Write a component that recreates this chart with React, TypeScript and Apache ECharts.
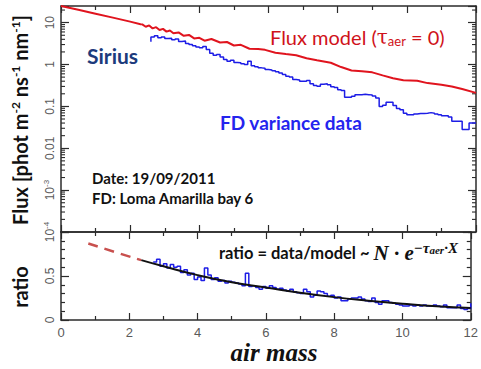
import React, { useEffect, useRef } from 'react';
import * as echarts from 'echarts';

// ---- Flux model (tau_aer = 0) versus air mass ----
const modelAirMass = [
  0, 0.5, 1.0, 1.5, 2.0, 2.3, 2.35, 2.45, 2.55, 2.65, 2.75, 2.85, 2.95, 3.05, 3.15, 3.25,
  3.4, 3.55, 3.7, 3.85, 4.0, 4.15, 4.35, 4.6, 4.8, 5.0, 5.2, 5.45, 5.7, 5.9, 6.2, 6.5,
  6.8, 7.1, 7.4, 7.8, 8.1, 8.4, 8.7, 9.0, 9.3, 9.6, 9.9, 10.3, 10.6, 11.0, 11.3, 11.6, 12.0,
];
const modelFlux = [
  25, 20.4, 16.4, 13.2, 10.6, 9.2, 9.1, 8.0, 8.6, 7.3, 7.8, 6.7, 7.1, 6.1, 6.5, 5.6,
  5.85, 4.85, 5.1, 4.2, 4.35, 3.7, 4.07, 3.35, 3.45, 2.85, 2.95, 2.38, 2.34, 2.24, 1.91, 1.78,
  1.66, 1.41, 1.26, 1.1, 0.87, 0.72, 0.69, 0.65, 0.55, 0.47, 0.42, 0.41, 0.36, 0.33, 0.3, 0.26, 0.21,
];

// ---- FD variance data, histogram bins of 0.1 in air mass ----
const fluxBinStart = 2.6;
const binWidth = 0.1;
const fluxEntryLevel = 3.5;
const dataFlux = [
  4.57, 4.9, 4.37, 4.57, 4.17, 4.27, 3.89, 4.07, 3.55, 3.63,
  3.16, 3.02, 2.82, 2.63, 2.51, 2.69, 2.29, 1.86, 1.66, 1.74,
  1.51, 1.32, 1.2, 1.26, 1.12, 1.1, 1.05, 1.0, 1.2, 0.933,
  0.891, 0.832, 0.813, 0.759, 0.741, 0.708, 0.676, 0.631, 0.575, 0.525,
  0.501, 0.437, 0.427, 0.398, 0.398, 0.417, 0.347, 0.316, 0.302, 0.339,
  0.347, 0.331, 0.295, 0.282, 0.251, 0.24, 0.166, 0.166, 0.174, 0.191,
  0.191, 0.195, 0.191, 0.186, 0.178, 0.158, 0.1, 0.107, 0.126, 0.126,
  0.105, 0.089, 0.083, 0.069, 0.063, 0.063, 0.066, 0.068, 0.068, 0.069,
  0.071, 0.069, 0.066, 0.063, 0.06, 0.06, 0.056, 0.044, 0.044, 0.044,
  0.028, 0.028, 0.04, 0.04,
];

// ---- ratio = data / model ----
const ratioBinStart = 2.7;
const ratioValues = [
  0.66, 0.69, 0.61, 0.64, 0.59, 0.63, 0.6, 0.61, 0.54, 0.57,
  0.51, 0.53, 0.46, 0.49, 0.45, 0.59, 0.51, 0.46, 0.48, 0.44,
  0.45, 0.42, 0.44, 0.43, 0.42, 0.41, 0.39, 0.53, 0.38, 0.39,
  0.37, 0.35, 0.38, 0.36, 0.39, 0.37, 0.35, 0.36, 0.34, 0.33,
  0.35, 0.32, 0.31, 0.3, 0.35, 0.32, 0.26, 0.28, 0.33, 0.32,
  0.3, 0.27, 0.28, 0.25, 0.26, 0.22, 0.22, 0.24, 0.25, 0.25,
  0.26, 0.24, 0.22, 0.21, 0.25, 0.2, 0.18, 0.22, 0.22, 0.2,
  0.19, 0.18, 0.17, 0.16, 0.16, 0.17, 0.16, 0.17, 0.16, 0.17,
  0.16, 0.16, 0.17, 0.16, 0.15, 0.17, 0.14, 0.14, 0.14, 0.17,
  0.13, 0.12, 0.13,
];
const ratioEdgeValue = 0.19;

// exponential fit N * exp(-tau_aer * X) and its extrapolation to low air mass
const fitAirMass = [2.35, 3, 4, 5, 6, 7, 8, 9, 10, 11, 12];
const fitRatio = [0.68, 0.61, 0.51, 0.43, 0.37, 0.31, 0.26, 0.22, 0.185, 0.155, 0.135];
const extrapAirMass = [0.8, 1.6, 2.35];
const extrapRatio = [0.87, 0.77, 0.68];

// y tick labels (value, text) for the flux and ratio panels
const fluxTickValues = [10, 1, 0.1, 0.01, 0.001, 0.0001];
const fluxTickTexts = ['10', '1', '0.1', '0.01', '{b|10}{s|-3}', '{b|10}{s|-4}'];
const ratioTickValues = [0, 0.5];
const ratioTickTexts = ['0', '0.5'];

// log-axis minor tick multipliers and decades
const minorMultipliers = [2, 3, 4, 5, 6, 7, 8, 9];
const decades = [-4, -3, -2, -1, 0, 1];

const AXIS = '#2b2b2b';
const TICKTXT = '#5a5a5a';
const RED = '#e0141e';
const BLUE = '#1d1de6';
const SANS = 'Lato, "Open Sans", sans-serif';
const ROOTFONT = '"Liberation Sans", Arial, sans-serif';
const SERIF = '"Liberation Serif", serif';
const LABEL_X = 50;

const pairs = (xs: number[], ys: number[]) => xs.map((x, i) => [x, ys[i]]);
const binned = (start: number, vals: number[]) =>
  vals.map((v, i) => [Math.round((start + i * binWidth) * 100) / 100, v]);

const tickLabelRich = {
  b: { fontSize: 12, fill: TICKTXT, fontFamily: ROOTFONT },
  s: { fontSize: 8, fill: TICKTXT, fontFamily: ROOTFONT, padding: [0, 0, 7, 0] },
};

// vertical tick label placed beside the left axis at the value's position
const tickLabelSeries = (xAxisIndex: number, yAxisIndex: number, values: number[], texts: string[]) => ({
  type: 'custom',
  xAxisIndex,
  yAxisIndex,
  silent: true,
  clip: false,
  data: values.map((v) => [0, v]),
  encode: { x: 0, y: 1 },
  renderItem: (params: any, api: any) => {
    const p = api.coord([0, api.value(1)]);
    return {
      type: 'text',
      x: LABEL_X,
      y: p[1],
      rotation: Math.PI / 2,
      style: {
        text: texts[params.dataIndex],
        font: `12px ${ROOTFONT}`,
        fill: TICKTXT,
        align: 'center',
        verticalAlign: 'middle',
        rich: tickLabelRich,
      },
    };
  },
});

export default function App() {
  const ref = useRef<HTMLDivElement>(null);

  useEffect(() => {
    if (!ref.current) return;
    const chart = echarts.init(ref.current, undefined, { renderer: 'svg' });

    const fluxData: number[][] = [[fluxBinStart, fluxEntryLevel], ...binned(fluxBinStart, dataFlux)];
    fluxData.push([12, dataFlux[dataFlux.length - 1]]);
    const ratioData: number[][] = binned(ratioBinStart, ratioValues);
    ratioData.push([12, ratioValues[ratioValues.length - 1]]);
    ratioData.push([12, ratioEdgeValue]);

    const minorTickValues: number[][] = [];
    decades.forEach((d) =>
      minorMultipliers.forEach((m) => {
        const v = m * Math.pow(10, d);
        if (v <= 25) minorTickValues.push([0, v]);
      }),
    );

    const axisLine = { show: true, onZero: false, lineStyle: { color: AXIS, width: 1.5 } };
    const majorTick = { show: true, inside: true, length: 8, lineStyle: { color: AXIS, width: 1.2 } };
    const xBase = (grid: number, pos: 'top' | 'bottom', labels: boolean) => ({
      gridIndex: grid,
      type: 'value',
      position: pos,
      min: 0,
      max: 12,
      interval: 2,
      axisLine,
      axisTick: { show: true, inside: true, length: 7, lineStyle: { color: AXIS, width: 1.2 } },
      minorTick: { show: true, splitNumber: 2, length: 4, lineStyle: { color: AXIS, width: 1.2 } },
      splitLine: { show: false },
      axisLabel: labels
        ? { show: true, color: TICKTXT, fontSize: 13, fontFamily: ROOTFONT, margin: 6 }
        : { show: false },
    });
    const logY = (pos: 'left' | 'right') => ({
      gridIndex: 0,
      type: 'log',
      position: pos,
      min: 1e-4,
      max: 25,
      axisLine,
      axisTick: majorTick,
      splitLine: { show: false },
      axisLabel: { show: false },
    });
    const ratioY = (pos: 'left' | 'right') => ({
      gridIndex: 1,
      type: 'value',
      position: pos,
      min: 0,
      max: 1,
      interval: 0.5,
      axisLine,
      axisTick: majorTick,
      minorTick: { show: true, splitNumber: 5, length: 4, lineStyle: { color: AXIS, width: 1.2 } },
      splitLine: { show: false },
      axisLabel: { show: false },
    });

    const option = {
      animation: false,
      grid: [
        { left: 61, top: 6, width: 415, height: 226 },
        { left: 61, top: 232, width: 415, height: 88 },
      ],
      xAxis: [xBase(0, 'bottom', false), xBase(0, 'top', false), xBase(1, 'bottom', true), xBase(1, 'top', false)],
      yAxis: [logY('left'), logY('right'), ratioY('left'), ratioY('right')],
      series: [
        {
          type: 'custom',
          xAxisIndex: 0,
          yAxisIndex: 0,
          silent: true,
          clip: false,
          data: minorTickValues,
          encode: { x: 0, y: 1 },
          renderItem: (params: any, api: any) => {
            const p = api.coord([0, api.value(1)]);
            const cs = params.coordSys;
            const st = { stroke: AXIS, lineWidth: 1.1 };
            return {
              type: 'group',
              children: [
                { type: 'line', shape: { x1: cs.x, y1: p[1], x2: cs.x + 4, y2: p[1] }, style: st },
                { type: 'line', shape: { x1: cs.x + cs.width - 4, y1: p[1], x2: cs.x + cs.width, y2: p[1] }, style: st },
              ],
            };
          },
        },
        tickLabelSeries(0, 0, fluxTickValues, fluxTickTexts),
        tickLabelSeries(2, 2, ratioTickValues, ratioTickTexts),
        {
          name: 'Flux model',
          type: 'line',
          xAxisIndex: 0,
          yAxisIndex: 0,
          data: pairs(modelAirMass, modelFlux),
          showSymbol: false,
          lineStyle: { color: RED, width: 2 },
        },
        {
          name: 'FD variance data',
          type: 'line',
          xAxisIndex: 0,
          yAxisIndex: 0,
          step: 'end',
          data: fluxData,
          showSymbol: false,
          lineStyle: { color: BLUE, width: 1.5 },
        },
        {
          name: 'ratio',
          type: 'line',
          xAxisIndex: 2,
          yAxisIndex: 2,
          step: 'end',
          data: ratioData,
          showSymbol: false,
          lineStyle: { color: BLUE, width: 1.5 },
        },
        {
          name: 'fit',
          type: 'line',
          xAxisIndex: 2,
          yAxisIndex: 2,
          smooth: true,
          data: pairs(fitAirMass, fitRatio),
          showSymbol: false,
          lineStyle: { color: '#111', width: 2 },
        },
        {
          name: 'extrapolation',
          type: 'line',
          xAxisIndex: 2,
          yAxisIndex: 2,
          smooth: true,
          data: pairs(extrapAirMass, extrapRatio),
          showSymbol: false,
          lineStyle: { color: '#c8504e', width: 2.5, type: [10, 7] },
        },
      ],
      graphic: [
        {
          type: 'text',
          x: 20,
          y: 120,
          rotation: Math.PI / 2,
          style: {
            text: '{t|Flux [phot m}{s|-2}{t| ns}{s|-1}{t| nm}{s|-1}{t|]}',
            align: 'center',
            verticalAlign: 'middle',
            rich: {
              t: { fontSize: 20, fontWeight: 'bold', fontFamily: SANS, fill: '#111' },
              s: { fontSize: 12, fontWeight: 'bold', fontFamily: SANS, fill: '#111', padding: [0, 0, 10, 0] },
            },
          },
        },
        {
          type: 'text',
          x: 20,
          y: 287,
          rotation: Math.PI / 2,
          style: { text: 'ratio', font: `bold 20px ${SANS}`, fill: '#111', align: 'center', verticalAlign: 'middle' },
        },
        {
          type: 'text',
          x: 274,
          y: 352,
          style: {
            text: 'air mass',
            font: `italic bold 25px ${SERIF}`,
            fill: '#111',
            align: 'center',
            verticalAlign: 'middle',
          },
        },
        {
          type: 'text',
          x: 87,
          y: 55,
          style: { text: 'Sirius', font: `bold 21px ${SANS}`, fill: '#1d3b7c', align: 'left', verticalAlign: 'middle' },
        },
        {
          type: 'text',
          x: 270,
          y: 37,
          style: {
            text: '{r|Flux model (}{t|τ}{u|aer}{r| = 0)}',
            align: 'left',
            verticalAlign: 'middle',
            rich: {
              r: { fontSize: 20, fontFamily: SANS, fill: '#d0121a' },
              t: { fontSize: 20, fontFamily: '"DejaVu Serif", serif', fill: '#d0121a' },
              u: { fontSize: 13, fontFamily: SANS, fill: '#d0121a', padding: [8, 0, 0, 0] },
            },
          },
        },
        {
          type: 'text',
          x: 220,
          y: 122,
          style: { text: 'FD variance data', font: `bold 19px ${SANS}`, fill: '#2424ee', align: 'left', verticalAlign: 'middle' },
        },
        {
          type: 'text',
          x: 92,
          y: 178,
          style: { text: 'Date: 19/09/2011', font: `bold 15px ${SANS}`, fill: '#111', align: 'left', verticalAlign: 'middle' },
        },
        {
          type: 'text',
          x: 92,
          y: 198,
          style: { text: 'FD: Loma Amarilla bay 6', font: `bold 15px ${SANS}`, fill: '#111', align: 'left', verticalAlign: 'middle' },
        },
        {
          type: 'text',
          x: 219,
          y: 253,
          style: {
            text: '{b|ratio = data/model ~ }{i|N · e}{p|−τ}{q|aer}{p|·X}',
            align: 'left',
            verticalAlign: 'middle',
            rich: {
              b: { fontSize: 16.5, fontWeight: 'bold', fontFamily: SANS, fill: '#111' },
              i: { fontSize: 21, fontWeight: 'bold', fontStyle: 'italic', fontFamily: SERIF, fill: '#111' },
              p: { fontSize: 15, fontStyle: 'italic', fontWeight: 'bold', fontFamily: SERIF, fill: '#111', padding: [0, 0, 11, 0] },
              q: { fontSize: 11, fontStyle: 'italic', fontWeight: 'bold', fontFamily: SERIF, fill: '#111', padding: [0, 0, 6, 0] },
            },
          },
        },
      ],
    };

    chart.setOption(option as any);
    return () => chart.dispose();
  }, []);

  return (
    <div
      ref={ref}
      style={{ position: 'fixed', left: 0, top: 0, width: 481, height: 369, background: '#fff' }}
    />
  );
}
